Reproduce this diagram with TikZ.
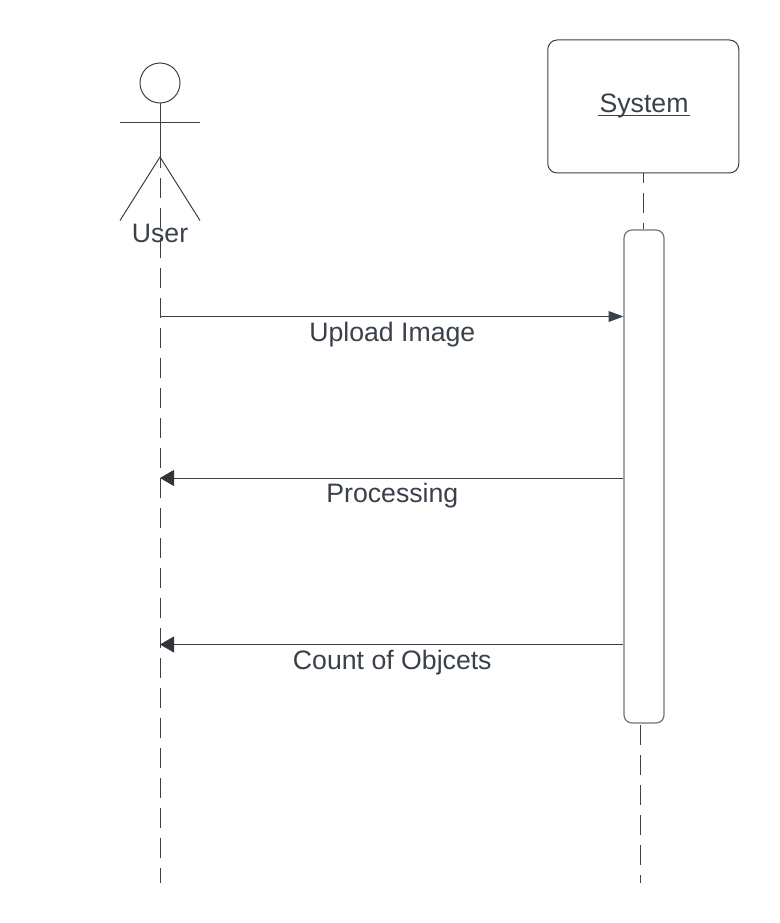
\documentclass[tikz,border=0pt]{standalone}
\usepackage{fontspec}
\setmainfont{Liberation Sans}
\usetikzlibrary{arrows.meta}
\definecolor{inkline}{HTML}{3A414A}
\definecolor{softline}{HTML}{6E747B}
\definecolor{tipfill}{HTML}{333538}
\newcommand{\sysline}[1]{\rlap{\kern-1.5pt\raisebox{-2.9pt}{\rule{69pt}{1.1pt}}}#1}
\tikzset{
    actorline/.style={draw=inkline, line width=0.75pt},
    lifeline/.style={draw=inkline, line width=0.75pt, dash pattern=on 15pt off 7.5pt},
    objbox/.style={draw=inkline, line width=0.75pt, rounded corners=7pt, minimum width=143.25pt, minimum height=99.75pt, inner sep=0pt},
    actbox/.style={draw=softline, line width=0.9pt, rounded corners=6pt, minimum width=30pt, minimum height=369.75pt, inner sep=0pt},
    msg/.style={draw=inkline, line width=0.75pt, -{Triangle[length=11pt, width=8pt]}},
    back/.style={draw=inkline, line width=0.75pt, -{Triangle[length=10.5pt, width=12pt, color=tipfill]}},
    lbl/.style={text=inkline, font=\fontsize{20}{24}\selectfont, inner sep=0pt, anchor=base}
}
\begin{document}
\begin{tikzpicture}[x=0.75pt, y=-0.75pt]
    \useasboundingbox (0, 0) rectangle (779, 923);
    \node[actorline, circle, minimum size=30pt, inner sep=0pt] (head) at (160, 83) {};
    \coordinate (hip) at (160, 157);
    \coordinate (armL) at (120, 122.5);
    \coordinate (armR) at (200, 122.5);
    \coordinate (footL) at (120, 220.5);
    \coordinate (footR) at (200, 220.5);
    \coordinate (userEnd) at (160, 883);
    \coordinate (sysTop) at (643, 173);
    \coordinate (sysBelow) at (640, 725);
    \coordinate (sysEnd) at (640, 883);
    \node[objbox] (system) at (643.3, 106.5) {};
    \node[lbl] (systemText) at (644, 112.5) {\sysline{System}};
    \node[actbox] (act) at (644, 476.5) {};
    \draw[actorline] (head.south) -- (hip);
    \draw[actorline] (armL) -- (armR);
    \draw[actorline] (footL) -- (hip) -- (footR);
    \draw[lifeline, dash phase=6.75pt] (hip) -- (userEnd);
    \draw[lifeline, dash phase=7.5pt] (sysTop) -- (sysTop |- act.north);
    \draw[lifeline] (sysBelow) -- (sysEnd);
    \node[lbl] (user) at (160, 242.5) {User};
    \coordinate (up) at (160, 316.5);
    \coordinate (proc) at (160, 478);
    \coordinate (count) at (160, 644.5);
    \draw[msg] (up) -- (up -| act.west);
    \draw[back] (proc -| act.west) -- (proc);
    \draw[back] (count -| act.west) -- (count);
    \node[lbl] (upText) at (392.3, 341) {Upload Image};
    \node[lbl] (procText) at (392.3, 502) {Processing};
    \node[lbl] (countText) at (392.3, 669) {Count of Objcets};
\end{tikzpicture}
\end{document}
